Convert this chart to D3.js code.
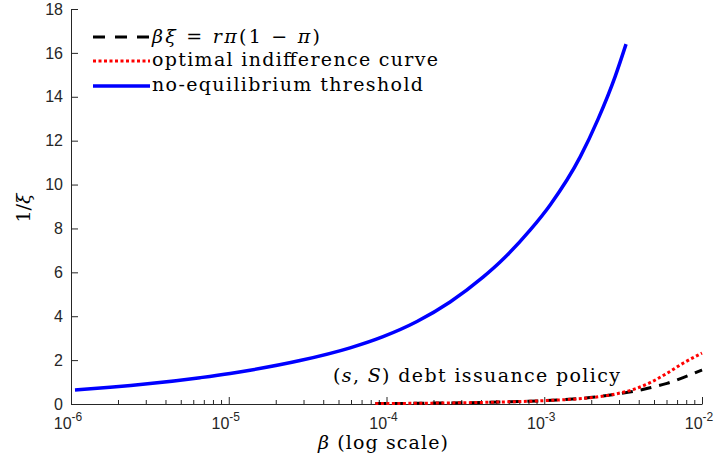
<!DOCTYPE html>
<html><head><meta charset="utf-8">
<script src="https://cdn.jsdelivr.net/npm/d3@7"></script>
<style>body{margin:0;background:#fff}</style>
</head><body>
<svg id="chart" width="717" height="462"></svg>
<script>
// Data
const blueBeta  = [1.06e-6, 1.77e-6, 3.17e-6, 6.58e-6, 1.02e-5, 1.365e-5, 2.83e-5, 5.88e-5, 9.51e-5, 1.56e-4, 2.53e-4, 4.09e-4, 5.25e-4, 8.13e-4, 1.09e-3, 1.69e-3, 2.19e-3, 2.81e-3, 3.30e-3];
const blueVal   = [0.64, 0.76, 0.93, 1.20, 1.39, 1.54, 1.98, 2.56, 3.07, 3.76, 4.65, 5.78, 6.47, 7.92, 9.07, 11.26, 12.97, 14.91, 16.4];
const blackBeta = [8.5e-5, 2e-4, 5.25e-4, 9.8e-4, 2.25e-3, 2.89e-3, 3.66e-3, 4.68e-3, 6.0e-3, 7.59e-3, 1.0e-2];
const blackVal  = [0.02, 0.04, 0.09, 0.15, 0.34, 0.45, 0.57, 0.74, 0.94, 1.20, 1.55];
const redBeta   = [8.5e-5, 2e-4, 5.25e-4, 9.8e-4, 2.25e-3, 2.89e-3, 3.66e-3, 4.68e-3, 6.0e-3, 7.59e-3, 1.0e-2];
const redVal    = [0.02, 0.04, 0.09, 0.15, 0.34, 0.47, 0.66, 0.97, 1.40, 1.86, 2.32];
const yTicks = [0, 2, 4, 6, 8, 10, 12, 14, 16, 18];
const xMajor = [1e-6, 1e-5, 1e-4, 1e-3, 1e-2];
const xExp   = ["-6", "-5", "-4", "-3", "-2"];

const svg = d3.select("#chart");
const x = d3.scaleLog().domain([1e-6, 1e-2]).range([71, 702]);
const y = d3.scaleLinear().domain([0, 18]).range([404, 9]);
const axisColor = "#262626";
const sans = "'Liberation Sans', Arial, sans-serif";
const serif = "'DejaVu Serif', serif";

// Y axis
const ya = svg.append("g").attr("transform", "translate(71,0)")
  .call(d3.axisLeft(y).tickValues(yTicks).tickSizeInner(-7).tickSizeOuter(0).tickPadding(8));
ya.select(".domain").attr("stroke", axisColor);
ya.selectAll(".tick line").attr("stroke", axisColor);
ya.selectAll(".tick text").attr("font-family", sans).attr("font-size", 16).attr("fill", axisColor);

// X axis
const xa = svg.append("g").attr("transform", "translate(0,404)")
  .call(d3.axisBottom(x).tickValues(xMajor).tickSizeInner(-7).tickSizeOuter(0).tickFormat(""));
xa.select(".domain").attr("stroke", axisColor);
xa.selectAll(".tick line").attr("stroke", axisColor);
// minor ticks
const minor = x.ticks().filter(v => !xMajor.some(m => Math.abs(m - v) / m < 1e-6));
xa.selectAll(".minor").data(minor).join("line").attr("class", "minor")
  .attr("x1", d => x(d)).attr("x2", d => x(d)).attr("y1", 0).attr("y2", -4)
  .attr("stroke", axisColor);
// x tick labels
xMajor.forEach((v, i) => {
  const t = svg.append("text").attr("x", x(v) - 3).attr("y", 429)
    .attr("text-anchor", "middle").attr("font-family", sans).attr("font-size", 16).attr("fill", axisColor);
  t.append("tspan").text("10");
  t.append("tspan").attr("dy", -8).attr("font-size", 12).text(xExp[i]);
});

// Lines
const line = d3.line().x(d => x(d[0])).y(d => y(d[1])).curve(d3.curveMonotoneX);
svg.append("path").datum(blueBeta.map((b, i) => [b, blueVal[i]]))
  .attr("d", line).attr("fill", "none").attr("stroke", "#0000ff").attr("stroke-width", 3.5);
svg.append("path").datum(blackBeta.map((b, i) => [b, blackVal[i]]))
  .attr("d", line).attr("fill", "none").attr("stroke", "#000").attr("stroke-width", 3)
  .attr("stroke-dasharray", "11,8");
svg.append("path").datum(redBeta.map((b, i) => [b, redVal[i]]))
  .attr("d", line).attr("fill", "none").attr("stroke", "#ff0000").attr("stroke-width", 3)
  .attr("stroke-dasharray", "3,2.5");

// Legend
const leg = [
  {y: 37, stroke: "#000", dash: "12,10", w: 3},
  {y: 61, stroke: "#ff0000", dash: "3,2.5", w: 3},
  {y: 86, stroke: "#0000ff", dash: null, w: 3.5}
];
leg.forEach(l => {
  svg.append("line").attr("x1", 93).attr("x2", 150).attr("y1", l.y).attr("y2", l.y)
    .attr("stroke", l.stroke).attr("stroke-width", l.w).attr("stroke-dasharray", l.dash);
});
function txt(xp, yp, parts, size, len) {
  const t = svg.append("text").attr("x", xp).attr("y", yp).attr("font-family", serif)
    .attr("font-size", size).attr("fill", "#000");
  if (len) t.attr("textLength", len).attr("lengthAdjust", "spacing");
  parts.forEach(p => t.append("tspan").attr("font-style", p[1] ? "italic" : "normal").text(p[0]));
  return t;
}
txt(152, 43, [["β", 1], ["ξ", 1], [" = ", 0], ["r", 1], ["π", 1], ["(1 − ", 0], ["π", 1], [")", 0]], 19, 168);
txt(152, 66, [["optimal indifference curve", 0]], 19, 286);
txt(152, 91, [["no-equilibrium threshold", 0]], 19, 271);

// Annotation
txt(333, 382, [["(", 0], ["s", 1], [", ", 0], ["S", 1], [") debt issuance policy", 0]], 19, 287);

// Axis labels
txt(318, 449, [["β", 1], [" (log scale)", 0]], 19, 130);
txt(0, 0, [["1/", 0], ["ξ", 1]], 19).attr("text-anchor", "middle")
  .attr("transform", "translate(30,208) rotate(-90)");
</script>
</body></html>
